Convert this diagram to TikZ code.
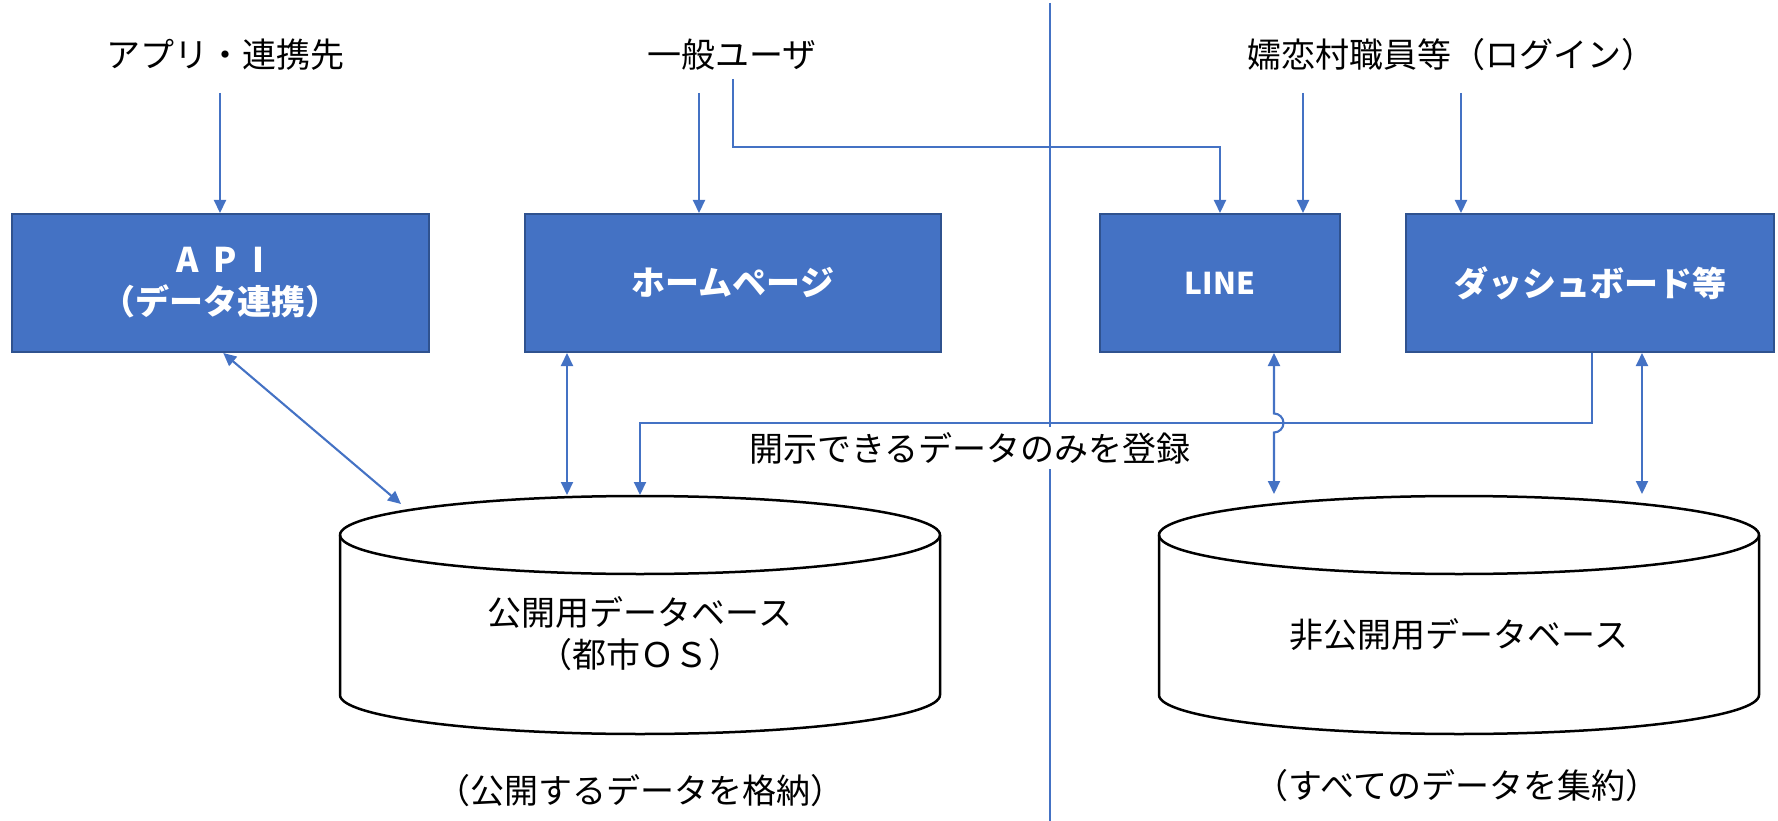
\documentclass[tikz,border=0pt]{standalone}
\usepackage{fontspec}
\setmainfont{Noto Sans CJK JP}
\usetikzlibrary{arrows.meta}
\definecolor{blueA}{HTML}{4472C4}
\definecolor{blueB}{HTML}{2F528F}
\begin{document}
\begin{tikzpicture}[x=1pt,y=-1pt,
  box/.style={draw=blueB, line width=2pt, fill=blueA, text=white,
    font=\fontsize{34}{42}\selectfont\bfseries, minimum height=138pt,
    inner sep=0pt, align=center},
  lbl/.style={font=\fontsize{34}{42}\selectfont, inner sep=0pt, align=center},
  conn/.style={draw=blueA, line width=2.1pt},
  tip/.style={-{Triangle[length=13pt,width=12pt]}},
  tips/.style={{Triangle[length=13pt,width=12pt]}-{Triangle[length=13pt,width=12pt]}},
  db/.style={draw=black, line width=2.5pt, fill=white}]
\useasboundingbox (0,0) rectangle (1778,821);

% divider
\draw[blueA, line width=1.5pt] (1050,3) -- (1050,821);

% top labels
\node[lbl] (app) at (225,55) {アプリ・連携先};
\node[lbl] (user) at (732,55) {一般ユーザ};
\node[lbl] (staff) at (1451,55) {嬬恋村職員等（ログイン）};

% boxes
\node[box, minimum width=417pt] (api) at (220.25,283) {A\hspace{0.45em}P\hspace{0.45em}I\\（データ連携）};
\node[box, minimum width=416pt] (hp) at (733,283) {ホームページ};
\node[box, minimum width=240pt, font=\fontsize{30}{36}\selectfont\bfseries] (line) at (1220,283) {LINE};
\node[box, minimum width=368pt] (dash) at (1590,283) {ダッシュボード等};

% databases
\path[db] (340,535) -- (340,695) arc[start angle=180, end angle=360, x radius=300pt, y radius=39pt]
  -- (940,535) arc[start angle=0, end angle=180, x radius=300pt, y radius=39pt] -- cycle;
\draw[db, fill=none] (340,535) arc[start angle=180, end angle=360, x radius=300pt, y radius=39pt];
\path[db] (1159,535) -- (1159,695) arc[start angle=180, end angle=360, x radius=300pt, y radius=39pt]
  -- (1759,535) arc[start angle=0, end angle=180, x radius=300pt, y radius=39pt] -- cycle;
\draw[db, fill=none] (1159,535) arc[start angle=180, end angle=360, x radius=300pt, y radius=39pt];

\node[lbl] (pubdb) at (640,634) {公開用データベース\\（都市ＯＳ）};
\node[lbl] (privdb) at (1459,635) {非公開用データベース};
\node[lbl] (pubcap) at (640,791) {（公開するデータを格納）};
\node[lbl] (privcap) at (1457,786) {（すべてのデータを集約）};

% register label
\node[lbl, fill=white, inner ysep=5pt, inner xsep=4pt] (reg) at (970,448) {開示できるデータのみを登録};

% coordinates
\coordinate (appout) at (220,93);
\coordinate (userout1) at (699,93);
\coordinate (userout2) at (733,79);
\coordinate (userbend) at (733,147);
\coordinate (staffout1) at (1303,93);
\coordinate (staffout2) at (1461,93);
\coordinate (pubA) at (401,504);
\coordinate (pubB) at (567,495);
\coordinate (pubC) at (640,495);
\coordinate (regbend) at (640,423);
\coordinate (privA) at (1274,494);
\coordinate (privB) at (1642,494);

% connectors
\draw[conn,tip] (appout) -- (appout |- api.north);
\draw[conn,tip] (userout1) -- (userout1 |- hp.north);
\draw[conn,tip] (userout2) -- (userbend) -| (line.north);
\draw[conn,tip] (staffout1) -- (staffout1 |- line.north);
\draw[conn,tip] (staffout2) -- (staffout2 |- dash.north);
\draw[conn,tips] ([xshift=3pt]api.south) -- (pubA);
\draw[conn,tips] (pubB |- hp.south) -- (pubB);
\draw[conn,tip] ([xshift=2pt]dash.south) |- (regbend) -- (pubC);
\draw[conn,tips] (privA |- line.south) -- (1274,413.5)
  arc[start angle=90, end angle=-90, radius=9.5pt] -- (privA);
\draw[conn,tips] (privB |- dash.south) -- (privB);
\end{tikzpicture}
\end{document}
